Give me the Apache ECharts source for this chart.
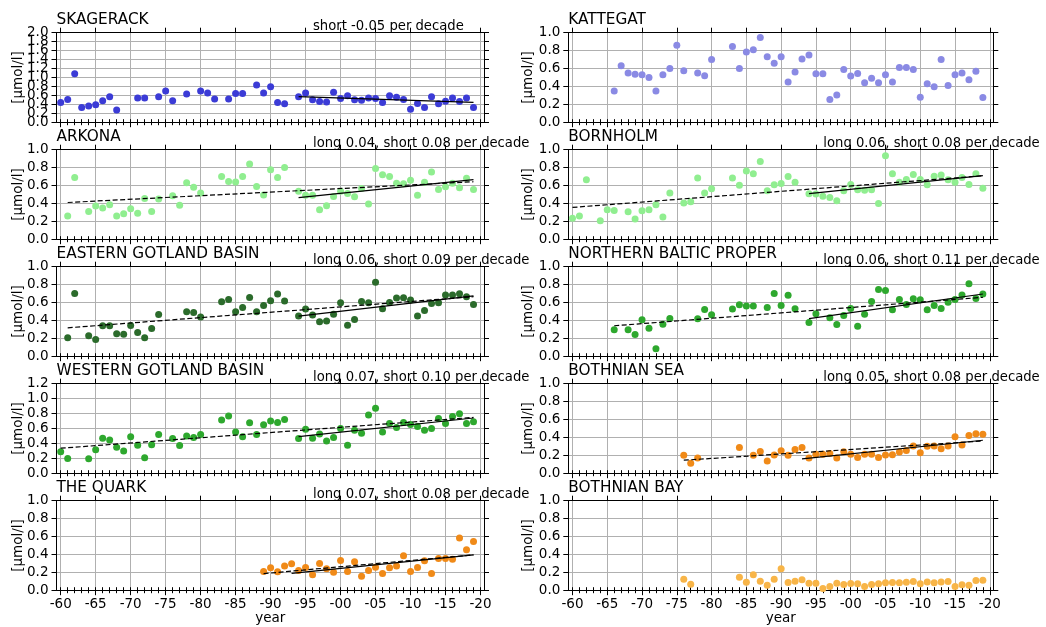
<!DOCTYPE html>
<html>
<head>
<meta charset="utf-8">
<script src="https://cdn.jsdelivr.net/npm/echarts@6/dist/echarts.min.js"></script>
<style>
  html, body { margin: 0; padding: 0; background: #ffffff; }
  #chart { width: 1046px; height: 627px; }
</style>
</head>
<body>
<div id="chart"></div>
<script>
// ---- x axis ticks ----
const yearTicks = [1960, 1965, 1970, 1975, 1980, 1985, 1990, 1995, 2000, 2005, 2010, 2015, 2020];
const yearTickLabels = ['-60', '-65', '-70', '-75', '-80', '-85', '-90', '-95', '-00', '-05', '-10', '-15', '-20'];

// ---- station series (year, µmol/l) ----
const skagerackYears = [1960,1961,1962,1963,1964,1965,1966,1967,1968,1971,1972,1974,1975,1976,1978,1980,1981,1982,1984,1985,1986,1988,1989,1990,1991,1992,
  1994,1995,1996,1997,1998,1999,2000,2001,2002,2003,2004,2005,2006,2007,2008,2009,2010,2011,2012,2013,2014,2015,2016,2017,2018,2019];
const skagerackValues = [0.44,0.51,1.08,0.33,0.36,0.39,0.48,0.57,0.27,0.54,0.54,0.57,0.70,0.48,0.63,0.70,0.65,0.52,0.52,0.64,0.64,0.83,0.65,0.79,0.44,0.41,
  0.57,0.65,0.50,0.46,0.45,0.67,0.53,0.59,0.50,0.49,0.54,0.53,0.44,0.59,0.56,0.51,0.29,0.42,0.33,0.57,0.41,0.47,0.54,0.46,0.54,0.33];

const kattegatYears = [1966,1967,1968,1969,1970,1971,1972,1973,1974,1975,1976,1978,1979,1980,
  1983,1984,1985,1986,1987,1988,1989,1990,1991,1992,1993,1994,1995,1996,1997,1998,1999,
  2000,2001,2002,2003,2004,2005,2006,2007,2008,2009,2010,2011,2012,2013,2014,2015,2016,2017,2018,2019];
const kattegatValues = [0.35,0.63,0.55,0.535,0.53,0.50,0.35,0.53,0.60,0.86,0.575,0.55,0.52,0.70,
  0.845,0.60,0.785,0.81,0.945,0.73,0.66,0.73,0.45,0.56,0.705,0.75,0.54,0.54,0.255,0.305,0.59,
  0.515,0.545,0.44,0.49,0.44,0.53,0.45,0.61,0.61,0.59,0.28,0.43,0.395,0.70,0.41,0.53,0.55,0.475,0.57,0.275];

const arkonaYears = [1961,1962,1964,1965,1966,1967,1968,1969,1970,1971,1972,1973,1974,1976,1977,1978,1979,1980,
  1983,1984,1985,1986,1987,1988,1989,1990,1991,1992,
  1994,1995,1996,1997,1998,1999,2000,2001,2002,2003,2004,2005,2006,2007,2008,2009,2010,2011,2012,2013,2014,2015,2016,2017,2018,2019];
const arkonaValues = [0.26,0.69,0.31,0.37,0.35,0.385,0.26,0.285,0.34,0.29,0.455,0.31,0.448,0.485,0.38,0.63,0.58,0.515,
  0.70,0.645,0.64,0.70,0.84,0.59,0.495,0.775,0.69,0.80,
  0.537,0.49,0.49,0.33,0.375,0.478,0.537,0.51,0.474,0.567,0.393,0.79,0.72,0.70,0.626,0.62,0.66,0.49,0.637,0.75,0.555,0.585,0.626,0.574,0.68,0.555];

const bornholmYears = [1960,1961,1962,1964,1965,1966,1968,1969,1970,1971,1972,1973,1974,1976,1977,1978,1979,1980,
  1983,1984,1985,1986,1987,1988,1989,1990,1991,1992,
  1994,1995,1996,1997,1998,1999,2000,2001,2002,2003,2004,2005,2006,2007,2008,2009,2010,2011,2012,2013,2014,2015,2016,2017,2018,2019];
const bornholmValues = [0.233,0.26,0.663,0.207,0.33,0.322,0.307,0.226,0.318,0.33,0.385,0.248,0.515,0.404,0.418,0.685,0.515,0.563,
  0.685,0.604,0.763,0.73,0.867,0.54,0.607,0.622,0.70,0.637,
  0.507,0.504,0.48,0.467,0.43,0.54,0.61,0.552,0.548,0.552,0.40,0.933,0.73,0.637,0.667,0.722,0.667,0.607,0.704,0.718,0.663,0.637,0.69,0.611,0.73,0.57];

const easternGotlandYears = [1961,1962,1964,1965,1966,1967,1968,1969,1970,1971,1972,1973,1974,1978,1979,1980,
  1983,1984,1985,1986,1987,1988,1989,1990,1991,1992,
  1994,1995,1996,1997,1998,1999,2000,2001,2002,2003,2004,2005,2006,2007,2008,2009,2010,2011,2012,2013,2014,2015,2016,2017,2018,2019];
const easternGotlandValues = [0.205,0.70,0.228,0.187,0.34,0.34,0.25,0.246,0.343,0.265,0.205,0.31,0.466,0.496,0.489,0.437,
  0.608,0.634,0.496,0.545,0.657,0.496,0.567,0.62,0.694,0.616,
  0.448,0.526,0.459,0.384,0.392,0.47,0.597,0.347,0.41,0.612,0.597,0.825,0.53,0.60,0.65,0.653,0.627,0.45,0.511,0.59,0.597,0.683,0.683,0.698,0.664,0.578];

const northernBalticYears = [1966,1968,1969,1970,1971,1972,1973,1974,1978,1979,1980,
  1983,1984,1985,1986,1988,1989,1990,1991,1992,
  1994,1995,1997,1998,1999,2000,2001,2002,2003,2004,2005,2006,2007,2008,2009,2010,2011,2012,2013,2014,2015,2016,2017,2018,2019];
const northernBalticValues = [0.295,0.295,0.243,0.407,0.313,0.082,0.358,0.42,0.418,0.522,0.463,
  0.526,0.575,0.56,0.56,0.545,0.70,0.567,0.68,0.53,
  0.377,0.474,0.43,0.354,0.455,0.534,0.336,0.47,0.612,0.746,0.735,0.519,0.634,0.578,0.642,0.63,0.519,0.567,0.534,0.604,0.634,0.683,0.81,0.645,0.694];

const westernGotlandYears = [1960,1961,1964,1965,1966,1967,1968,1969,1970,1971,1972,1973,1974,1976,1977,1978,1979,1980,
  1983,1984,1985,1986,1987,1988,1989,1990,1991,1992,
  1994,1995,1996,1997,1998,1999,2000,2001,2002,2003,2004,2005,2006,2007,2008,2009,2010,2011,2012,2013,2014,2015,2016,2017,2018,2019];
const westernGotlandValues = [0.288,0.198,0.194,0.315,0.468,0.446,0.347,0.297,0.49,0.374,0.207,0.383,0.52,0.464,0.37,0.50,0.477,0.52,
  0.712,0.766,0.554,0.49,0.676,0.52,0.65,0.70,0.68,0.72,
  0.464,0.59,0.468,0.527,0.432,0.477,0.599,0.374,0.577,0.536,0.78,0.87,0.554,0.667,0.613,0.68,0.653,0.626,0.577,0.599,0.734,0.667,0.761,0.797,0.667,0.689];

const bothnianSeaYears = [1976,1977,1978,1984,1986,1987,1988,1989,1990,1991,1992,1993,
  1994,1995,1996,1997,1998,1999,2000,2001,2002,2003,2004,2005,2006,2007,2008,2009,2010,2011,2012,2013,2014,2015,2016,2017,2018,2019];
const bothnianSeaValues = [0.20,0.112,0.169,0.288,0.20,0.243,0.135,0.202,0.25,0.20,0.266,0.288,
  0.169,0.213,0.213,0.221,0.169,0.24,0.213,0.176,0.213,0.213,0.176,0.202,0.206,0.236,0.255,0.303,0.228,0.30,0.303,0.273,0.303,0.408,0.315,0.42,0.442,0.434];

const quarkYears = [1989,1990,1991,1992,1993,1994,1995,1996,1997,1998,1999,
  2000,2001,2002,2003,2004,2005,2006,2007,2008,2009,2010,2011,2012,2013,2014,2015,2016,2017,2018,2019];
const quarkValues = [0.209,0.25,0.205,0.269,0.295,0.22,0.254,0.172,0.299,0.239,0.20,
  0.332,0.209,0.317,0.157,0.22,0.257,0.187,0.25,0.269,0.384,0.209,0.254,0.328,0.187,0.354,0.354,0.347,0.582,0.451,0.545];

const bothnianBayYears = [1976,1977,1984,1985,1986,1987,1988,1989,1990,1991,1992,1993,
  1994,1995,1996,1997,1998,1999,2000,2001,2002,2003,2004,2005,2006,2007,2008,2009,2010,2011,2012,2013,2014,2015,2016,2017,2018,2019];
const bothnianBayValues = [0.123,0.067,0.146,0.09,0.172,0.10,0.056,0.123,0.239,0.086,0.10,0.116,
  0.078,0.078,0.019,0.041,0.078,0.063,0.075,0.071,0.041,0.063,0.071,0.082,0.086,0.082,0.09,0.097,0.071,0.093,0.082,0.093,0.097,0.041,0.06,0.056,0.108,0.112];

// ---- linear trends: [first year, last year, value at first year, slope per decade] ----
const skagerackShort      = [1994, 2019, 0.57, -0.05];
const arkonaLong          = [1961, 2019, 0.41, 0.04];
const arkonaShort         = [1994, 2019, 0.465, 0.08];
const bornholmLong        = [1960, 2019, 0.355, 0.06];
const bornholmShort       = [1994, 2019, 0.51, 0.08];
const easternGotlandLong  = [1961, 2019, 0.317, 0.06];
const easternGotlandShort = [1994, 2019, 0.448, 0.09];
const northernBalticLong  = [1966, 2019, 0.34, 0.06];
const northernBalticShort = [1994, 2019, 0.42, 0.11];
const westernGotlandLong  = [1960, 2019, 0.335, 0.07];
const westernGotlandShort = [1994, 2019, 0.49, 0.10];
const bothnianSeaLong     = [1976, 2019, 0.145, 0.05];
const bothnianSeaShort    = [1993, 2019, 0.16, 0.08];
const quarkLong           = [1989, 2019, 0.185, 0.07];
const quarkShort          = [1993, 2019, 0.187, 0.08];

const panels = [
  { name: 'SKAGERACK', years: skagerackYears, values: skagerackValues, color: '#3b3bd6', yMax: 2.0, long: null, short: skagerackShort },
  { name: 'KATTEGAT', years: kattegatYears, values: kattegatValues, color: '#8a8ae4', yMax: 1.0, long: null, short: null },
  { name: 'ARKONA', years: arkonaYears, values: arkonaValues, color: '#90ee90', yMax: 1.0, long: arkonaLong, short: arkonaShort },
  { name: 'BORNHOLM', years: bornholmYears, values: bornholmValues, color: '#90ee90', yMax: 1.0, long: bornholmLong, short: bornholmShort },
  { name: 'EASTERN GOTLAND BASIN', years: easternGotlandYears, values: easternGotlandValues, color: '#2b6b2b', yMax: 1.0, long: easternGotlandLong, short: easternGotlandShort },
  { name: 'NORTHERN BALTIC PROPER', years: northernBalticYears, values: northernBalticValues, color: '#2ea82e', yMax: 1.0, long: northernBalticLong, short: northernBalticShort },
  { name: 'WESTERN GOTLAND BASIN', years: westernGotlandYears, values: westernGotlandValues, color: '#2ea82e', yMax: 1.2, long: westernGotlandLong, short: westernGotlandShort },
  { name: 'BOTHNIAN SEA', years: bothnianSeaYears, values: bothnianSeaValues, color: '#f08a18', yMax: 1.0, long: bothnianSeaLong, short: bothnianSeaShort },
  { name: 'THE QUARK', years: quarkYears, values: quarkValues, color: '#f08a18', yMax: 1.0, long: quarkLong, short: quarkShort },
  { name: 'BOTHNIAN BAY', years: bothnianBayYears, values: bothnianBayValues, color: '#f8b548', yMax: 1.0, long: null, short: null }
];

// ---- layout ----
const X_MIN = 1959.4, X_MAX = 2020.5;
const COL_LEFT = [56.5, 568.3];
const COL_WIDTH = [427.5, 425];
const ROW_TOP = 32.7, ROW_STEP = 117, PLOT_H = 89.5;
const FONT = 'DejaVu Sans';
const GRID_COLOR = '#b0b0b0';
const Y_STEP = 0.2;

const everyYear = [];
for (let y = 1960; y <= 2020; y++) everyYear.push(y);

function trendLine(t) {
  return [[t[0], t[2]], [t[1], t[2] + t[3] * (t[1] - t[0]) / 10]];
}

// y tick positions 0, 0.2, ... yMax, split into alternating sets so that
// every label is drawn even where neighbours crowd each other
function yTickSets(yMax) {
  const even = [], odd = [];
  const n = Math.round(yMax / Y_STEP);
  for (let k = 0; k <= n; k++) {
    const v = +(k * Y_STEP).toFixed(1);
    (k % 2 === 0 ? even : odd).push(v);
  }
  return [even, odd];
}

const grids = [], xAxes = [], yAxes = [], series = [], graphics = [];

panels.forEach((p, i) => {
  const row = Math.floor(i / 2), col = i % 2;
  const left = COL_LEFT[col], width = COL_WIDTH[col];
  const top = ROW_TOP + row * ROW_STEP;
  const isBottom = row === 4;
  grids.push({ left: left, top: top, width: width, height: PLOT_H, show: false, containLabel: false });

  const tickStyle = { color: '#000', width: 1 };
  // bottom: major ticks, labels and vertical grid
  xAxes.push({
    type: 'value', gridIndex: i, position: 'bottom', min: X_MIN, max: X_MAX,
    axisLine: { show: true, onZero: false, lineStyle: { color: '#000', width: 1 } },
    axisTick: { show: true, customValues: yearTicks, length: 5, lineStyle: tickStyle },
    axisLabel: {
      show: isBottom, customValues: yearTicks, margin: 7,
      formatter: v => yearTickLabels[yearTicks.indexOf(Math.round(v))],
      fontFamily: FONT, fontSize: 13.5, color: '#000'
    },
    splitLine: { show: true, lineStyle: { color: GRID_COLOR, width: 1 } }
  });
  // bottom: yearly minor ticks
  xAxes.push({
    type: 'value', gridIndex: i, position: 'bottom', min: X_MIN, max: X_MAX,
    axisLine: { show: false },
    axisTick: { show: true, customValues: everyYear, length: 3, lineStyle: tickStyle },
    axisLabel: { show: false }, splitLine: { show: false }
  });
  // top: frame and ticks
  xAxes.push({
    type: 'value', gridIndex: i, position: 'top', min: X_MIN, max: X_MAX,
    axisLine: { show: true, onZero: false, lineStyle: { color: '#000', width: 1 } },
    axisTick: { show: true, customValues: yearTicks, length: 5, lineStyle: tickStyle },
    axisLabel: { show: false }, splitLine: { show: false }
  });
  xAxes.push({
    type: 'value', gridIndex: i, position: 'top', min: X_MIN, max: X_MAX,
    axisLine: { show: false },
    axisTick: { show: true, customValues: everyYear, length: 3, lineStyle: tickStyle },
    axisLabel: { show: false }, splitLine: { show: false }
  });

  const [evenTicks, oddTicks] = yTickSets(p.yMax);
  const yLabelStyle = {
    show: true, margin: 8, showMinLabel: true, showMaxLabel: true, hideOverlap: false,
    formatter: v => v.toFixed(1), fontFamily: FONT, fontSize: 13.5, color: '#000'
  };
  // left: frame, ticks, even labels, horizontal grid
  yAxes.push({
    type: 'value', gridIndex: i, position: 'left', min: 0, max: p.yMax, interval: Y_STEP,
    axisLine: { show: true, onZero: false, lineStyle: { color: '#000', width: 1 } },
    axisTick: { show: true, length: 5, lineStyle: tickStyle },
    axisLabel: Object.assign({ customValues: evenTicks }, yLabelStyle),
    splitLine: { show: true, lineStyle: { color: GRID_COLOR, width: 1 } }
  });
  // left: odd labels
  yAxes.push({
    type: 'value', gridIndex: i, position: 'left', min: 0, max: p.yMax, interval: Y_STEP,
    axisLine: { show: false }, axisTick: { show: false },
    axisLabel: Object.assign({ customValues: oddTicks }, yLabelStyle),
    splitLine: { show: false }
  });
  // right: frame and ticks
  yAxes.push({
    type: 'value', gridIndex: i, position: 'right', min: 0, max: p.yMax, interval: Y_STEP,
    axisLine: { show: true, onZero: false, lineStyle: { color: '#000', width: 1 } },
    axisTick: { show: true, length: 5, lineStyle: tickStyle },
    axisLabel: { show: false }, splitLine: { show: false }
  });

  series.push({
    type: 'scatter', name: p.name, xAxisIndex: i * 4, yAxisIndex: i * 3,
    data: p.years.map((yr, k) => [yr, p.values[k]]),
    symbol: 'circle', symbolSize: 7, itemStyle: { color: p.color, opacity: 1 },
    silent: true, z: 2
  });
  if (p.long) {
    series.push({
      type: 'line', xAxisIndex: i * 4, yAxisIndex: i * 3, data: trendLine(p.long),
      showSymbol: false, symbol: 'none', silent: true, z: 3,
      lineStyle: { color: '#000', width: 1.2, type: [5, 2.5] }
    });
  }
  if (p.short) {
    series.push({
      type: 'line', xAxisIndex: i * 4, yAxisIndex: i * 3, data: trendLine(p.short),
      showSymbol: false, symbol: 'none', silent: true, z: 3,
      lineStyle: { color: '#000', width: 1.2, type: 'solid' }
    });
  }

  // panel title
  graphics.push({
    type: 'text', x: left, y: top - 12.5, silent: true,
    style: { text: p.name, font: '15.3px "' + FONT + '"', fill: '#000',
             align: 'left', verticalAlign: 'middle', textAlign: 'left', textVerticalAlign: 'middle' }
  });
  // trend annotation
  const parts = [];
  if (p.long) parts.push('long ' + p.long[3].toFixed(2));
  if (p.short) parts.push('short ' + p.short[3].toFixed(2));
  if (parts.length) {
    graphics.push({
      type: 'text', x: left + 0.6 * width, y: top - 6.2, silent: true, z: 10,
      style: { text: parts.join(', ') + ' per decade', font: '13.2px "' + FONT + '"', fill: '#000',
               align: 'left', verticalAlign: 'middle', textAlign: 'left', textVerticalAlign: 'middle' }
    });
  }
  // unit label
  graphics.push({
    type: 'text', x: col === 0 ? 18 : 528, y: top + PLOT_H / 2, rotation: Math.PI / 2, silent: true,
    style: { text: '[µmol/l]', font: '13.5px "' + FONT + '"', fill: '#000',
             align: 'center', verticalAlign: 'middle', textAlign: 'center', textVerticalAlign: 'middle' }
  });
  if (isBottom) {
    graphics.push({
      type: 'text', x: left + width / 2, y: 618, silent: true,
      style: { text: 'year', font: '13.5px "' + FONT + '"', fill: '#000',
               align: 'center', verticalAlign: 'middle', textAlign: 'center', textVerticalAlign: 'middle' }
    });
  }
});

const chart = echarts.init(document.getElementById('chart'), null, { renderer: 'canvas' });
chart.setOption({
  backgroundColor: '#ffffff',
  animation: false,
  textStyle: { fontFamily: FONT },
  grid: grids,
  xAxis: xAxes,
  yAxis: yAxes,
  series: series,
  graphic: graphics
});
</script>
</body>
</html>
